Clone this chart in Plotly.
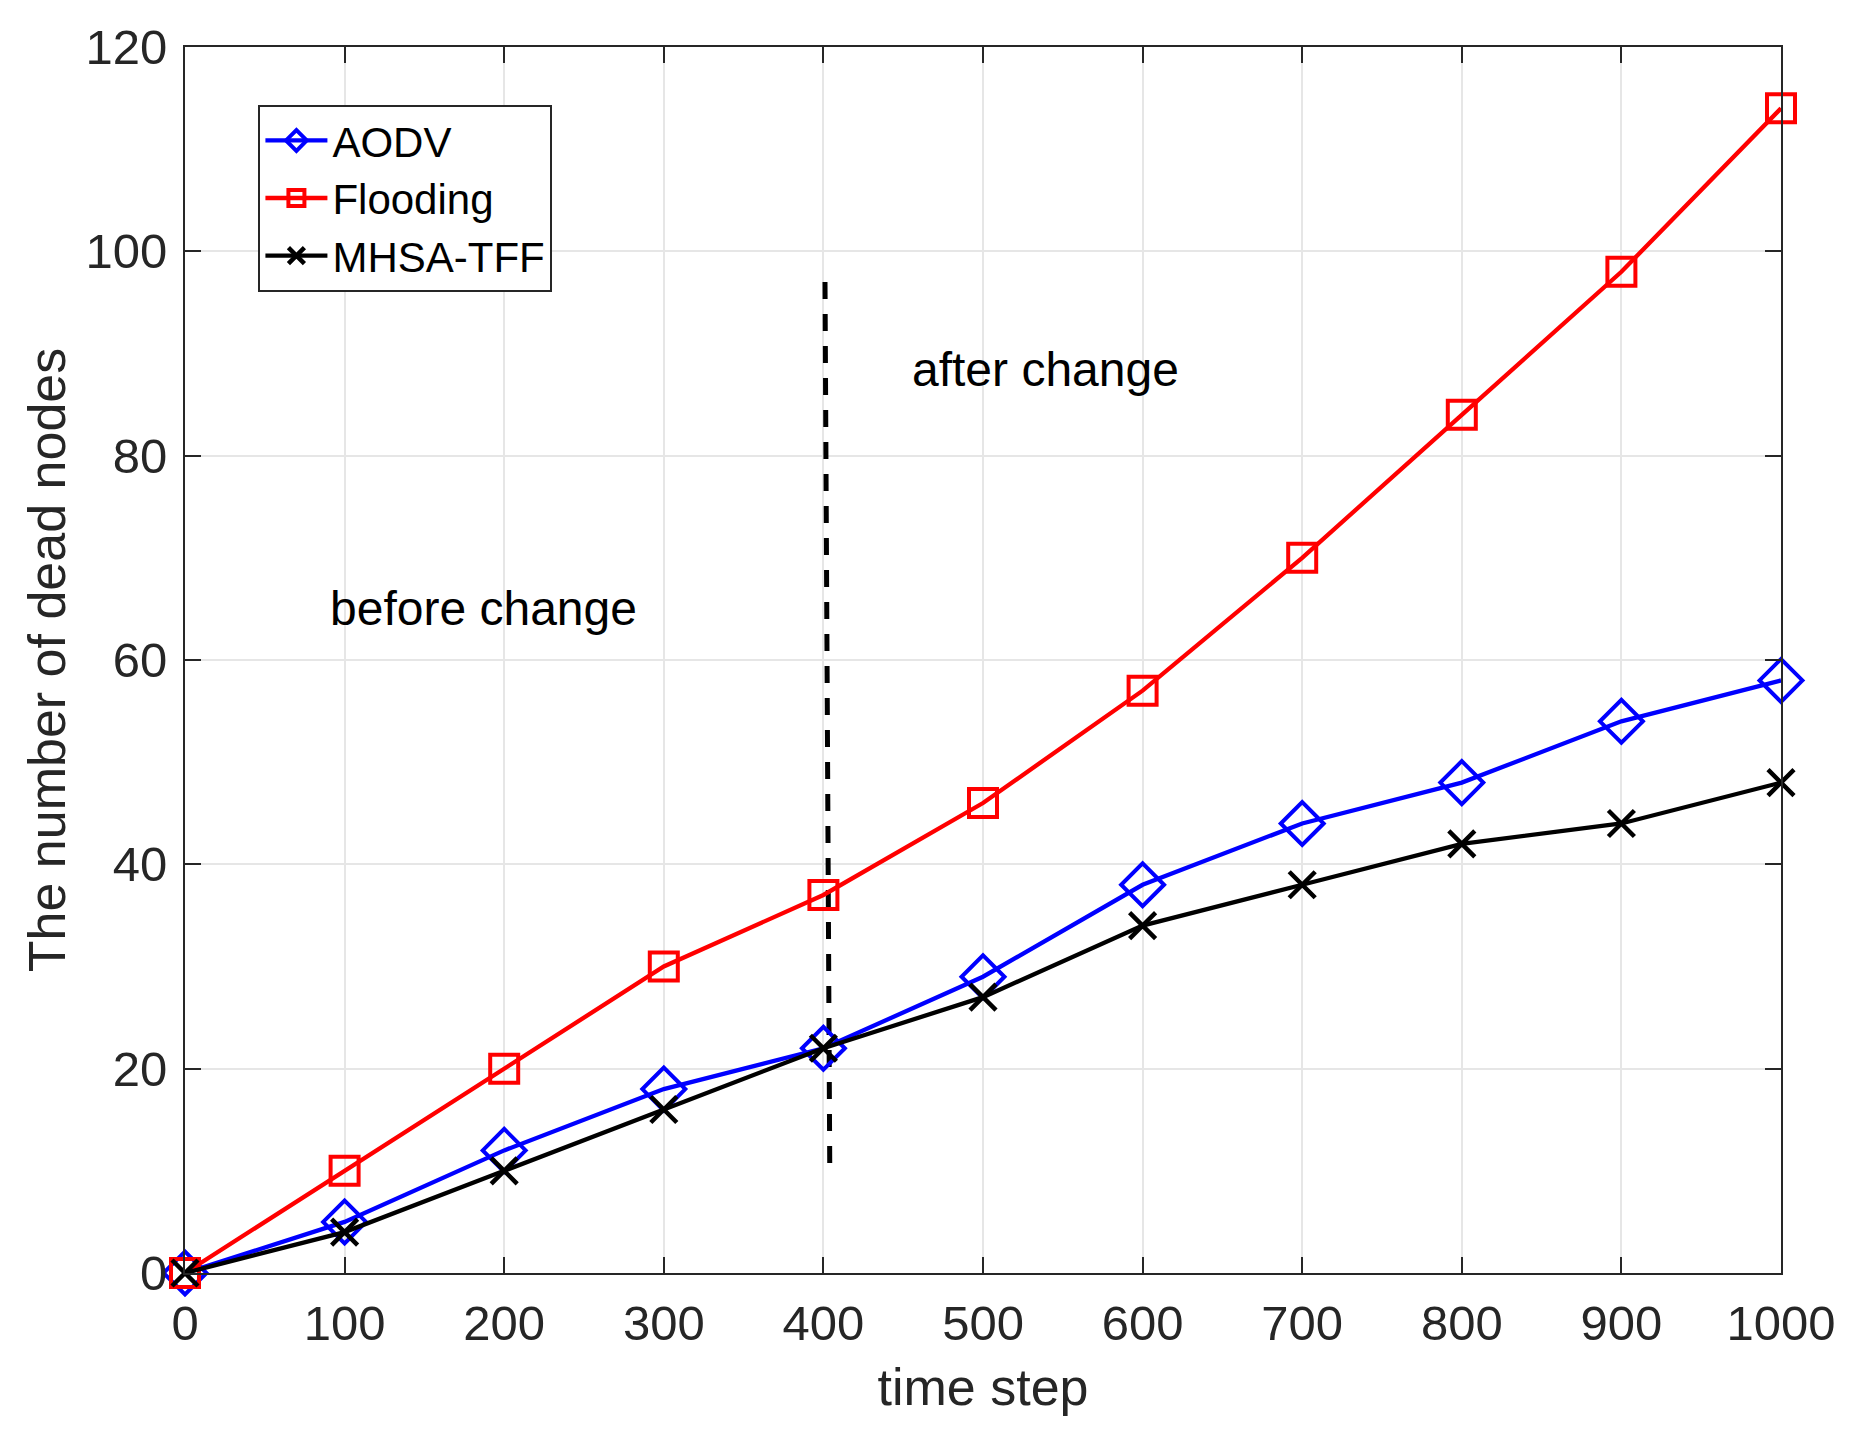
import plotly.graph_objects as go

time_steps = [0, 100, 200, 300, 400, 500, 600, 700, 800, 900, 1000]
aodv = [0, 5, 12, 18, 22, 29, 38, 44, 48, 54, 58]
flooding = [0, 10, 20, 30, 37, 46, 57, 70, 84, 98, 114]
mhsa_tff = [0, 4, 10, 16, 22, 27, 34, 38, 42, 44, 48]

divider_x = [401, 404]
divider_y = [97, 10]

x_ticks = [0, 100, 200, 300, 400, 500, 600, 700, 800, 900, 1000]
y_ticks = [0, 20, 40, 60, 80, 100, 120]

FONT = "Liberation Sans, Arial, sans-serif"

fig = go.Figure()
fig.add_trace(go.Scatter(
    x=divider_x, y=divider_y, mode="lines", showlegend=False,
    line=dict(color="black", width=5, dash="17px,15px"), hoverinfo="skip"))
fig.add_trace(go.Scatter(
    x=time_steps, y=aodv, mode="lines+markers", name="AODV",
    line=dict(color="#0000ff", width=4.3),
    marker=dict(symbol="diamond-open", size=33, color="#0000ff", line=dict(width=4)),
    cliponaxis=False))
fig.add_trace(go.Scatter(
    x=time_steps, y=flooding, mode="lines+markers", name="Flooding",
    line=dict(color="#ff0000", width=4.3),
    marker=dict(symbol="square-open", size=28, color="#ff0000", line=dict(width=4)),
    cliponaxis=False))
fig.add_trace(go.Scatter(
    x=time_steps, y=mhsa_tff, mode="lines+markers", name="MHSA-TFF",
    line=dict(color="black", width=4.3),
    marker=dict(symbol="x-thin-open", size=26, color="black", line=dict(width=4.5)),
    cliponaxis=False))

fig.add_annotation(x=187, y=65.0, text="before change", showarrow=False,
                   font=dict(family=FONT, size=48, color="black"))
fig.add_annotation(x=539, y=88.4, text="after change", showarrow=False,
                   font=dict(family=FONT, size=48, color="black"))

axis_common = dict(
    showgrid=True, gridcolor="#e6e6e6", gridwidth=1.5,
    showline=True, linecolor="#262626", linewidth=2, mirror="ticks",
    ticks="inside", ticklen=16, tickwidth=2, tickcolor="#262626",
    zeroline=False, ticklabelstandoff=6,
    tickfont=dict(family=FONT, size=49, color="#262626"),
)

fig.update_xaxes(range=[0, 1000], tickvals=x_ticks,
                 title=dict(text="time step", font=dict(family=FONT, size=52, color="#262626"), standoff=20),
                 **axis_common)
fig.update_yaxes(range=[0, 120], tickvals=y_ticks,
                 title=dict(text="The number of dead nodes", font=dict(family=FONT, size=52, color="#262626"), standoff=3),
                 **axis_common)

fig.update_layout(
    width=1855, height=1440,
    margin=dict(l=177, r=82, t=35, b=175),
    plot_bgcolor="white", paper_bgcolor="white",
    legend=dict(x=0.046, y=0.953, xanchor="left", yanchor="top",
                bgcolor="white", bordercolor="#262626", borderwidth=2,
                font=dict(family=FONT, size=42, color="black"),
                itemwidth=62, tracegroupgap=0),
)

fig.write_html("out.html")
